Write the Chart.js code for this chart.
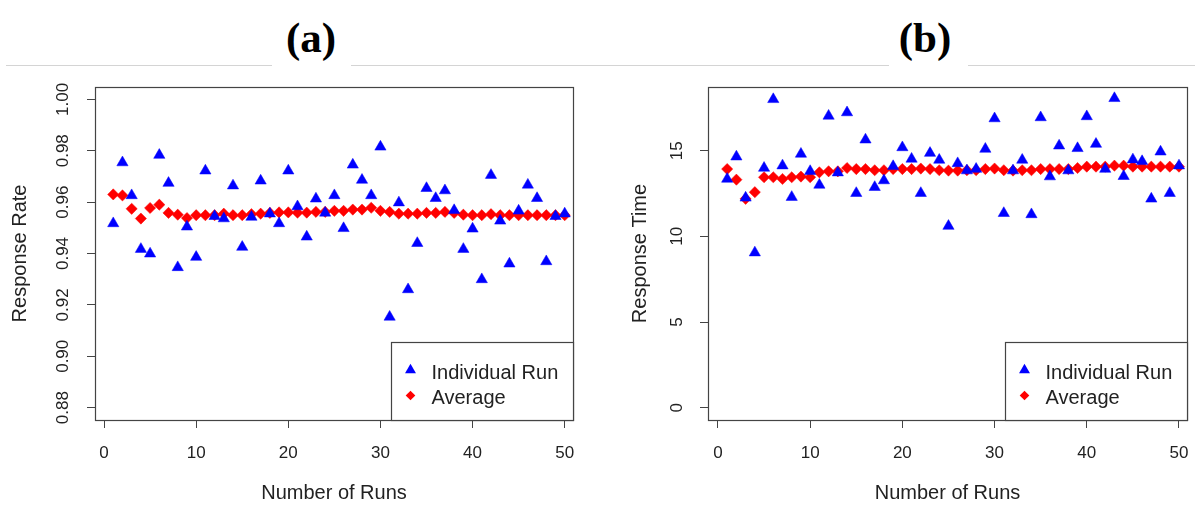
<!DOCTYPE html>
<html><head><meta charset="utf-8">
<script src="https://cdn.jsdelivr.net/npm/chart.js@4.4.1/dist/chart.umd.min.js"></script>
<style>
html,body{margin:0;padding:0;background:#fff;width:1195px;height:512px;overflow:hidden;}
.hline{position:absolute;top:65px;height:1px;background:#d4d4d4;}
.ttl{position:absolute;top:16px;font:bold 43px/43px "Liberation Serif","Times New Roman",serif;color:#000;text-align:center;width:80px;}
canvas{position:absolute;}
</style></head><body>
<div class="hline" style="left:6px;width:266px"></div>
<div class="hline" style="left:351px;width:538px"></div>
<div class="hline" style="left:968px;width:227px"></div>
<div class="ttl" style="left:271px">(a)</div>
<div class="ttl" style="left:885px">(b)</div>
<canvas id="ca" width="597" height="442" style="left:0;top:70px"></canvas>
<canvas id="cb" width="595" height="442" style="left:600px;top:70px"></canvas>
<script>
const runs = [1,2,3,4,5,6,7,8,9,10,11,12,13,14,15,16,17,18,19,20,21,22,23,24,25,26,27,28,29,30,31,32,33,34,35,36,37,38,39,40,41,42,43,44,45,46,47,48,49,50];
const rateIndividual = [0.9517,0.9754,0.9626,0.9417,0.9399,0.9783,0.9674,0.9346,0.9504,0.9386,0.9722,0.9545,0.9536,0.9664,0.9425,0.9542,0.9683,0.9555,0.9517,0.9722,0.9583,0.9465,0.9613,0.9558,0.9626,0.9498,0.9745,0.9686,0.9626,0.9815,0.9153,0.9598,0.9260,0.9440,0.9654,0.9615,0.9645,0.9568,0.9417,0.9496,0.9299,0.9705,0.9527,0.9360,0.9566,0.9667,0.9615,0.9369,0.9545,0.9555];
const rateAverage = [0.9630,0.9626,0.9574,0.9536,0.9577,0.9590,0.9558,0.9551,0.9538,0.9549,0.9549,0.9549,0.9555,0.9549,0.9549,0.9553,0.9555,0.9558,0.9560,0.9560,0.9559,0.9559,0.9562,0.9562,0.9566,0.9566,0.9571,0.9571,0.9578,0.9566,0.9562,0.9555,0.9555,0.9555,0.9558,0.9558,0.9562,0.9558,0.9551,0.9549,0.9549,0.9553,0.9549,0.9549,0.9549,0.9549,0.9549,0.9549,0.9549,0.9549];
const timeIndividual = [13.35,14.65,12.25,9.05,13.99,18.0,14.13,12.29,14.81,13.8,13.0,17.03,13.72,17.23,12.52,15.64,12.87,13.26,14.09,15.19,14.52,12.52,14.86,14.46,10.6,14.26,13.84,13.93,15.1,16.88,11.35,13.84,14.46,11.28,16.94,13.49,15.29,13.84,15.14,17.0,15.39,13.93,18.06,13.51,14.48,14.38,12.19,14.94,12.52,14.13];
const timeAverage = [13.93,13.31,12.19,12.58,13.45,13.45,13.35,13.45,13.49,13.45,13.74,13.8,13.8,13.99,13.93,13.93,13.86,13.86,13.93,13.93,13.93,13.96,13.93,13.86,13.84,13.84,13.86,13.86,13.93,13.96,13.86,13.84,13.86,13.86,13.93,13.93,13.93,13.93,13.99,14.07,14.07,14.07,14.13,14.13,14.07,14.07,14.07,14.07,14.07,14.07];
const xTicks = [0,10,20,30,40,50];
const rateTicks = [0.88,0.90,0.92,0.94,0.96,0.98,1.00];
const timeTicks = [0,5,10,15];
const seriesLabels = ['Individual Run','Average'];
const xTitle = 'Number of Runs';

Chart.defaults.font.family = '"Liberation Sans", Arial, sans-serif';
const TXT = '#222', LINE = '#444';

const frame = {
  id: 'frame',
  afterDraw(chart) {
    const {ctx, chartArea: a} = chart;
    ctx.save();
    ctx.strokeStyle = LINE; ctx.lineWidth = 1.2;
    const L = Math.round(a.left) + 0.5, T = Math.round(a.top) + 0.5;
    const R = Math.round(a.right) + 0.5, B = Math.round(a.bottom) + 0.5;
    ctx.strokeRect(L, T, R - L, B - T);
    const w = 182, h = 78, lx = R - w, ly = B - h;
    ctx.fillStyle = '#fff'; ctx.fillRect(lx, ly, w, h);
    ctx.strokeRect(lx, ly, w, h);
    chart.data.datasets.forEach((ds, i) => {
      const sx = lx + 19;
      ctx.fillStyle = ds.backgroundColor;
      ctx.beginPath();
      if (i === 0) {
        const cy = ly + 27.6, r = 6.3;
        ctx.moveTo(sx, cy - r);
        ctx.lineTo(sx + r * 0.866, cy + r / 2);
        ctx.lineTo(sx - r * 0.866, cy + r / 2);
      } else {
        const cy = ly + 53, r = 4.8;
        ctx.moveTo(sx, cy - r); ctx.lineTo(sx + r, cy); ctx.lineTo(sx, cy + r); ctx.lineTo(sx - r, cy);
      }
      ctx.closePath(); ctx.fill();
      ctx.fillStyle = TXT;
      ctx.font = '20px "Liberation Sans", Arial, sans-serif';
      ctx.textBaseline = 'alphabetic'; ctx.textAlign = 'left';
      ctx.fillText(ds.label, lx + 40, ly + (i === 0 ? 36 : 61.7));
    });
    ctx.restore();
  }
};

function makeChart(id, o) {
  return new Chart(document.getElementById(id), {
    type: 'scatter',
    data: {
      datasets: [
        { label: seriesLabels[0], data: runs.map((r, i) => ({x: r, y: o.ind[i]})),
          pointStyle: 'triangle', pointRadius: 6.5, backgroundColor: '#0000ff', borderColor: '#0000ff', borderWidth: 0.5 },
        { label: seriesLabels[1], data: runs.map((r, i) => ({x: r, y: o.avg[i]})),
          pointStyle: 'rectRot', pointRadius: 5.6, backgroundColor: '#ff0000', borderColor: '#ff0000', borderWidth: 0.5 }
      ]
    },
    options: {
      responsive: false, animation: false, events: [],
      layout: { padding: { left: 0, top: 17, right: o.padRight, bottom: 0 } },
      plugins: { legend: { display: false }, tooltip: { enabled: false } },
      scales: {
        x: {
          type: 'linear', min: o.xMin, max: o.xMax,
          afterBuildTicks: s => { s.ticks = xTicks.map(v => ({value: v})); },
          afterFit: s => { s.height = 92; s.paddingLeft = 0; s.paddingRight = 0; },
          ticks: { autoSkip: false, minRotation: 0, maxRotation: 0, padding: 15, color: TXT, font: { size: 17 } },
          grid: { drawOnChartArea: false, drawTicks: true, tickLength: 8, color: LINE, lineWidth: 1 },
          border: { display: false },
          title: { display: true, text: xTitle, color: TXT, font: { size: 20 }, padding: { top: 0, bottom: 7 } }
        },
        y: {
          type: 'linear', min: o.yMin, max: o.yMax,
          afterBuildTicks: s => { s.ticks = o.yTicks.map(v => ({value: v})); },
          afterFit: s => { s.width = o.yAxisW; s.paddingTop = 0; s.paddingBottom = 0; },
          ticks: { autoSkip: false, minRotation: 90, maxRotation: 90, crossAlign: 'center', padding: o.tickPad,
                   color: TXT, font: { size: 17 }, callback: v => o.fmt(v) },
          grid: { drawOnChartArea: false, drawTicks: true, tickLength: 8, color: LINE, lineWidth: 1 },
          border: { display: false },
          title: { display: true, text: o.yTitle, color: TXT, font: { size: 20 }, padding: { top: o.titlePad, bottom: 0 } }
        }
      }
    },
    plugins: [frame]
  });
}

makeChart('ca', { ind: rateIndividual, avg: rateAverage, xMin: -0.98, xMax: 50.9, yMin: 0.8752, yMax: 1.0048,
  yTicks: rateTicks, fmt: v => v.toFixed(2), yAxisW: 95, padRight: 24, tickPad: 7.5, titlePad: 8, yTitle: 'Response Rate' });
makeChart('cb', { ind: timeIndividual, avg: timeAverage, xMin: -1.08, xMax: 50.87, yMin: -0.72, yMax: 18.72,
  yTicks: timeTicks, fmt: v => String(v), yAxisW: 108, padRight: 8, tickPad: 13.5, titlePad: 28, yTitle: 'Response Time' });
</script>
</body></html>
